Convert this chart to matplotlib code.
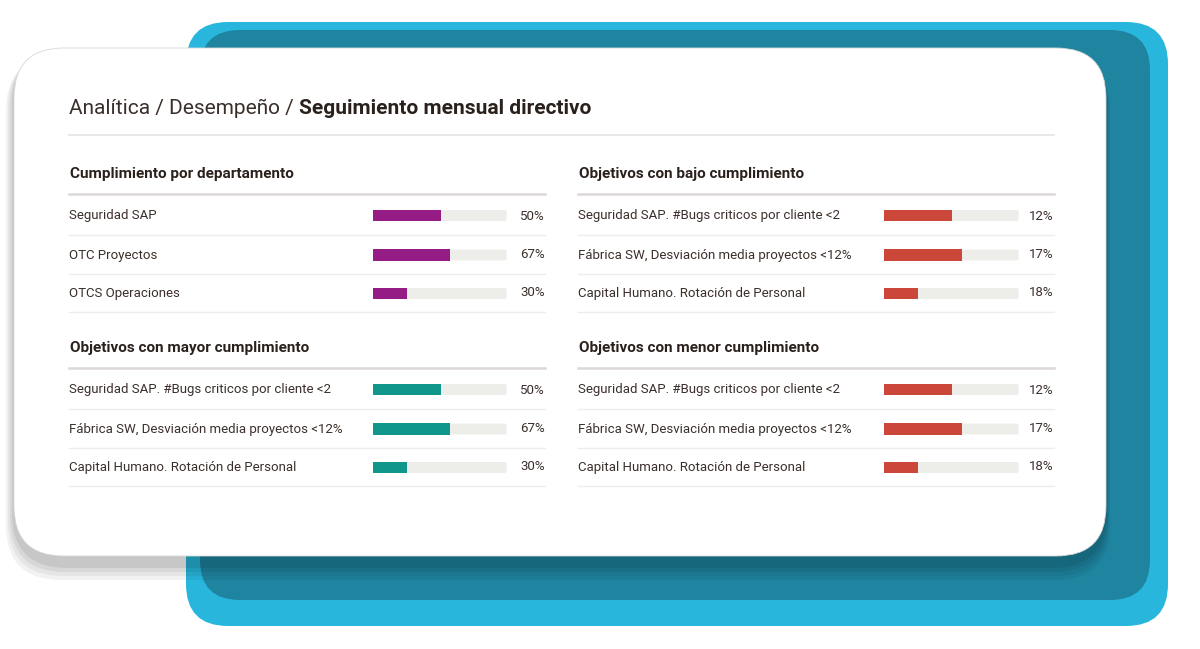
import matplotlib
matplotlib.use("Agg")
import matplotlib.pyplot as plt
from matplotlib.patches import FancyBboxPatch

title_light = "Analítica / Desempeño / "
title_bold = "Seguimiento mensual directivo"

panel_titles = ["Cumplimiento por departamento", "Objetivos con bajo cumplimiento",
                "Objetivos con mayor cumplimiento", "Objetivos con menor cumplimiento"]
dept_labels = ["Seguridad SAP", "OTC Proyectos", "OTCS Operaciones"]
obj_labels = ["Seguridad SAP. #Bugs criticos por cliente <2",
              "Fábrica SW, Desviación media proyectos <12%",
              "Capital Humano. Rotación de Personal"]
dept_pct = ["50%", "67%", "30%"]
low_pct = ["12%", "17%", "18%"]
bar_fill = [50, 57, 25]
panel_colors = ["#951c84", "#cb473a", "#10968a", "#cb473a"]

W, H = 1200, 649
fig = plt.figure(figsize=(12, 6.49), dpi=100)
ax = fig.add_axes([0, 0, 1, 1])
ax.set_xlim(0, W); ax.set_ylim(H, 0); ax.axis("off")

def rbox(x0, y0, x1, y1, r, **kw):
    ax.add_patch(FancyBboxPatch((x0 + r, y0 + r), x1 - x0 - 2 * r, y1 - y0 - 2 * r,
                                boxstyle=f"round,pad={r}", **kw))

# blue card
rbox(186, 22, 1168, 626, 42, fc="#29b6dc", ec="none")
rbox(200, 30, 1150, 600, 40, fc="#1f84a0", ec="none")
# shadow of white card
for i, a in enumerate([0.05, 0.05, 0.06, 0.07]):
    d = 8 - 2 * i
    rbox(14 - d, 48 + d, 1106 + d // 2, 556 + 2 * d + 8, 55, fc="black", ec="none", alpha=a)
# white card
rbox(14, 48, 1106, 556, 50, fc="white", ec="#d8d8d8", lw=0.6)

tc = "#3a2e2a"
t = ax.text(69, 108, title_light, fontsize=15, color=tc, va="center", family="Roboto")
fig.canvas.draw()
bb = t.get_window_extent()
x_b = bb.x1
ax.text(x_b, 108, title_bold, fontsize=15, color="#2a201c", va="center",
        fontweight="bold", family="Roboto")
ax.plot([69, 1054], [135, 135], color="#e6e4e2", lw=1.2)

panels = [(69, 545, 373, 508, 174, dept_labels, dept_pct),
          (578, 1054, 884, 1020, 174, obj_labels, low_pct),
          (69, 545, 373, 508, 348, obj_labels, dept_pct),
          (578, 1054, 884, 1020, 348, obj_labels, low_pct)]
for k, (x0, x1, bx0, bx1, hy, labels, pcts) in enumerate(panels):
    ax.text(x0 + 1, hy, panel_titles[k], fontsize=11, fontweight="bold", color="#2a201c",
            va="center", family="Roboto")
    ax.plot([x0, x1], [hy + 20, hy + 20], color="#dcd8d6", lw=1.8)
    rows = [hy + 42, hy + 81, hy + 119]
    for j, y in enumerate(rows):
        ax.text(x0, y, labels[j], fontsize=9.5, color=tc, va="center", family="Roboto")
        ax.text(x1, y, pcts[j], fontsize=9.5, color=tc, va="center", ha="right", family="Roboto")
        ax.plot([x0, x1], [y + 19, y + 19], color="#efedec", lw=1)
    # bar axes
    bax = fig.add_axes([bx0 / W, 1 - (rows[2] + 20) / H, (bx1 - bx0) / W, (rows[2] - rows[0] + 40) / H])
    bax.set_xlim(0, 100); bax.set_ylim(2.5, -0.5); bax.axis("off")
    # map row centers: each row spaced ~ equally
    ys = [(r - rows[0]) / ((rows[2] - rows[0]) / 2) for r in rows]
    for j in range(3):
        bax.add_patch(FancyBboxPatch((1, ys[j] - 0.14), 98, 0.28,
                                     boxstyle="round,pad=0,rounding_size=1", fc="#ededea", ec="none",
                                     mutation_aspect=0.1))
        bax.barh(ys[j], bar_fill[j], height=0.3, color=panel_colors[k])

fig.savefig("out.png", dpi=100)
